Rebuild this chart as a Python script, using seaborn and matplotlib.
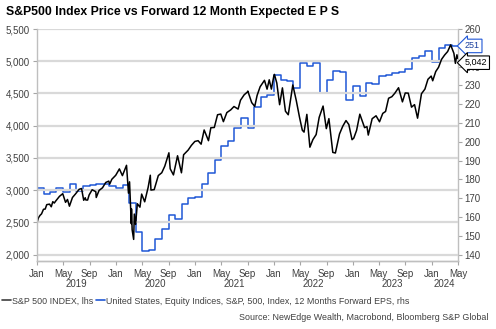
import numpy as np
import pandas as pd
import matplotlib
matplotlib.use('Agg')
import matplotlib.pyplot as plt
import matplotlib.dates as mdates
import matplotlib.transforms as mtransforms
from matplotlib.lines import Line2D
import seaborn as sns

# ---------------- data ----------------
sp_dates = [
    "2019-01-02", "2019-01-08", "2019-01-15", "2019-01-22", "2019-01-31", "2019-02-08", "2019-02-15",
    "2019-02-28", "2019-03-08", "2019-03-15", "2019-03-22", "2019-03-29", "2019-04-15", "2019-04-30",
    "2019-05-13", "2019-05-22", "2019-05-31", "2019-06-14", "2019-06-28", "2019-07-15", "2019-07-26",
    "2019-08-05", "2019-08-12", "2019-08-15", "2019-08-23", "2019-08-30", "2019-09-13", "2019-09-30",
    "2019-10-02", "2019-10-15", "2019-10-31", "2019-11-15", "2019-11-29", "2019-12-03", "2019-12-13",
    "2019-12-31", "2020-01-17", "2020-01-31", "2020-02-19", "2020-02-28", "2020-03-04", "2020-03-09",
    "2020-03-12", "2020-03-13", "2020-03-16", "2020-03-23", "2020-03-26", "2020-04-01", "2020-04-09",
    "2020-04-21", "2020-04-29", "2020-05-13", "2020-05-29", "2020-06-08", "2020-06-11", "2020-06-26",
    "2020-07-15", "2020-07-31", "2020-08-14", "2020-09-02", "2020-09-08", "2020-09-23", "2020-10-12",
    "2020-10-30", "2020-11-09", "2020-11-30", "2020-12-15", "2020-12-31", "2021-01-15", "2021-01-29",
    "2021-02-12", "2021-03-04", "2021-03-15", "2021-03-31", "2021-04-15", "2021-04-30", "2021-05-12",
    "2021-05-28", "2021-06-15", "2021-06-30", "2021-07-19", "2021-07-30", "2021-08-16", "2021-08-31",
    "2021-09-02", "2021-09-20", "2021-10-04", "2021-10-15", "2021-10-29", "2021-11-18", "2021-11-30",
    "2021-12-10", "2021-12-20", "2021-12-31", "2022-01-03", "2022-01-14", "2022-01-27", "2022-02-09",
    "2022-02-23", "2022-03-08", "2022-03-29", "2022-04-14", "2022-04-29", "2022-05-12", "2022-05-20",
    "2022-06-02", "2022-06-16", "2022-06-30", "2022-07-15", "2022-07-29", "2022-08-16", "2022-08-31",
    "2022-09-12", "2022-09-30", "2022-10-12", "2022-10-31", "2022-11-15", "2022-11-30", "2022-12-13",
    "2022-12-28", "2023-01-05", "2023-01-18", "2023-02-02", "2023-02-24", "2023-03-07", "2023-03-13",
    "2023-03-31", "2023-04-18", "2023-05-04", "2023-05-19", "2023-06-01", "2023-06-15", "2023-06-30",
    "2023-07-14", "2023-07-31", "2023-08-18", "2023-08-31", "2023-09-14", "2023-09-29", "2023-10-13",
    "2023-10-27", "2023-11-14", "2023-11-30", "2023-12-14", "2023-12-29", "2024-01-05", "2024-01-19",
    "2024-02-01", "2024-02-15", "2024-02-29", "2024-03-14", "2024-03-28", "2024-04-12", "2024-04-19",
    "2024-04-26", "2024-04-30",
]
sp_values = [
    2510, 2574, 2610, 2633, 2704, 2708, 2776,
    2784, 2743, 2822, 2801, 2834, 2905, 2946,
    2812, 2856, 2752, 2887, 2942, 3014, 3026,
    2844, 2883, 2848, 2847, 2926, 3007, 2977,
    2887, 2996, 3038, 3120, 3141, 3093, 3169,
    3231, 3330, 3226, 3386, 2954, 3130, 2747,
    2481, 2711, 2386, 2237, 2630, 2470, 2790,
    2737, 2940, 2820, 3044, 3232, 3002, 3009,
    3227, 3271, 3373, 3580, 3332, 3237, 3534,
    3270, 3550, 3622, 3695, 3756, 3768, 3714,
    3934, 3768, 3969, 3973, 4170, 4181, 4063,
    4204, 4246, 4298, 4258, 4395, 4479, 4523,
    4537, 4358, 4300, 4471, 4605, 4704, 4567,
    4712, 4568, 4766, 4796, 4662, 4326, 4587,
    4225, 4170, 4632, 4392, 4132, 3930, 3901,
    4176, 3667, 3785, 3863, 4130, 4305, 3955,
    4110, 3586, 3577, 3872, 3992, 4080, 4019,
    3783, 3808, 3928, 4179, 3970, 3986, 3855,
    4109, 4154, 4061, 4191, 4221, 4426, 4450,
    4505, 4589, 4370, 4508, 4505, 4288, 4327,
    4117, 4496, 4568, 4720, 4770, 4697, 4840,
    4906, 5030, 5096, 5150, 5254, 5123, 4967,
    5100, 5042,
]

eps_dates = [
    "2019-01-01", "2019-02-01", "2019-03-01", "2019-04-01", "2019-05-01", "2019-06-01",
    "2019-07-01", "2019-08-01", "2019-09-01", "2019-10-01", "2019-11-01", "2019-12-01",
    "2020-01-01", "2020-02-01", "2020-03-01", "2020-04-01", "2020-05-01", "2020-06-01",
    "2020-07-01", "2020-08-01", "2020-09-01", "2020-10-01", "2020-11-01", "2020-12-01",
    "2021-01-01", "2021-02-01", "2021-03-01", "2021-04-01", "2021-05-01", "2021-06-01",
    "2021-07-01", "2021-08-01", "2021-09-01", "2021-10-01", "2021-11-01", "2021-12-01",
    "2022-01-01", "2022-02-01", "2022-03-01", "2022-04-01", "2022-05-01", "2022-06-01",
    "2022-07-01", "2022-08-01", "2022-09-01", "2022-10-01", "2022-11-01", "2022-12-01",
    "2023-01-01", "2023-02-01", "2023-03-01", "2023-04-01", "2023-05-01", "2023-06-01",
    "2023-07-01", "2023-08-01", "2023-09-01", "2023-10-01", "2023-11-01", "2023-12-01",
    "2024-01-01", "2024-02-01", "2024-03-01", "2024-04-01", "2024-04-30",
]
eps_values = [
    175.7, 172.2, 173.5, 175.3, 173.2, 177.5,
    173.9, 176.6, 177.1, 177.5, 177.5, 176.7,
    175.3, 177.1, 167.4, 152.2, 142.0, 142.5,
    148.4, 153.5, 161.2, 158.9, 167.0, 170.0,
    170.5, 177.6, 183.3, 190.4, 197.9, 200.7,
    207.3, 212.6, 207.3, 218.3, 223.6, 225.0,
    235.7, 233.0, 232.6, 228.6, 241.9, 240.1,
    241.9, 225.9, 233.0, 237.8, 237.1, 222.0,
    229.5, 224.5, 231.3, 230.9, 234.8, 235.7,
    236.6, 237.1, 238.7, 244.6, 245.4, 248.5,
    242.4, 249.9, 251.7, 251.0, 251.0,
]

left_ticks = [2000, 2500, 3000, 3500, 4000, 4500, 5000, 5500]
right_ticks = [140, 150, 160, 170, 180, 190, 200, 210, 220, 230, 240, 250, 260]
right_labels = ["140", "150", "160", "170", "180", "190", "200", "210", "220", "230", "240", "", "260"]
month_ticks = ["2019-01-01", "2019-05-01", "2019-09-01", "2020-01-01", "2020-05-01", "2020-09-01",
               "2021-01-01", "2021-05-01", "2021-09-01", "2022-01-01", "2022-05-01", "2022-09-01",
               "2023-01-01", "2023-05-01", "2023-09-01", "2024-01-01", "2024-05-01"]
year_labels = ["2019", "2020", "2021", "2022", "2023", "2024"]
year_pos = ["2019-07-01", "2020-07-01", "2021-07-01", "2022-07-01", "2023-07-01", "2024-03-01"]

title = "S&P500 Index Price vs Forward 12 Month Expected E P S"
sp_name = "S&P 500 INDEX, lhs"
eps_name = "United States, Equity Indices, S&P, 500, Index, 12 Months Forward EPS, rhs"
source = "Source: NewEdge Wealth, Macrobond, Bloomberg S&P Global"

sp = pd.DataFrame({"date": pd.to_datetime(sp_dates), "value": sp_values})
eps = pd.DataFrame({"date": pd.to_datetime(eps_dates), "value": eps_values})

# ---------------- style ----------------
sns.set_theme(style="white")
plt.rcParams['font.family'] = ['Liberation Sans', 'DejaVu Sans']

BLUE = "#1F57D6"
GRAY = "#BFBFBF"
TXT = "#404040"

fig = plt.figure(figsize=(4.96, 3.29), dpi=100)
ax = fig.add_axes([37 / 496, 1 - 261 / 329, (458 - 37) / 496, (261 - 29) / 329])
ax2 = ax.twinx()

sns.lineplot(data=eps, x="date", y="value", ax=ax2, color=BLUE, lw=1.1,
             drawstyle="steps-post", legend=False)
sns.lineplot(data=sp, x="date", y="value", ax=ax, color="black", lw=1.1, legend=False)

ax.set_zorder(ax2.get_zorder() + 1)
ax.patch.set_visible(False)

ymin, ymax = 1902, 5500
ax.set_ylim(ymin, ymax)
ax2.set_ylim(140 + (ymin - 2000) * 120 / 3500, 260)
ax.set_xlim(pd.Timestamp("2019-01-01"), pd.Timestamp("2024-05-01"))

ax.set_yticks(left_ticks)
ax.set_yticklabels([f"{v:,}" for v in left_ticks])
ax2.set_yticks(right_ticks)
ax2.set_yticklabels(right_labels)
ax.yaxis.grid(True, color="#D9D9D9", lw=1.6)
ax.xaxis.grid(False)
ax2.grid(False)

ax.set_xticks(pd.to_datetime(month_ticks))
ax.set_xticklabels([pd.Timestamp(d).strftime("%b") for d in month_ticks])

for a in (ax, ax2):
    a.set_xlabel("")
    a.set_ylabel("")
    for s in a.spines.values():
        s.set_color(GRAY)
        s.set_linewidth(1.0)
    a.spines["top"].set_visible(False)
    a.tick_params(axis="both", which="major", length=3, width=0.8, color="#A6A6A6",
                  labelsize=7, labelcolor=TXT, pad=2)
ax.spines["right"].set_visible(False)
ax2.spines["left"].set_visible(False)
ax.tick_params(axis="y", left=True, right=False)
ax.tick_params(axis="x", bottom=True, pad=3)
ax2.tick_params(axis="y", right=True, left=False, pad=1.5)

trans = mtransforms.blended_transform_factory(ax.transData, ax.transAxes)
for lab, pos in zip(year_labels, year_pos):
    ax.text(pd.Timestamp(pos), -0.10, lab, transform=trans, ha="center", va="center",
            fontsize=7, color=TXT)

# end labels
ax2.annotate(f"{eps_values[-1]:.0f}", xy=(eps["date"].iloc[-1], eps_values[-1]),
             xytext=(5, 0), textcoords="offset points", ha="left", va="center",
             fontsize=6.5, color="#1A3F9E", annotation_clip=False, zorder=10,
             bbox=dict(boxstyle="larrow,pad=0.25", fc="white", ec=BLUE, lw=0.8))
ax.annotate(f"{sp_values[-1]:,}", xy=(sp["date"].iloc[-1], sp_values[-1]),
            xytext=(5, -3), textcoords="offset points", ha="left", va="center",
            fontsize=6.5, color="black", annotation_clip=False, zorder=10,
            bbox=dict(boxstyle="larrow,pad=0.25", fc="white", ec="black", lw=0.8))

fig.text(0.012, 1 - 12 / 329, title, fontsize=8.8, fontweight="bold", color="black",
         ha="left", va="center")

handles = [Line2D([], [], color="#404040", lw=1.2), Line2D([], [], color=BLUE, lw=1.2)]
fig.legend(handles, [sp_name, eps_name], loc="center left",
           bbox_to_anchor=(0.0, 1 - 301 / 329), ncol=2, frameon=False, fontsize=6.4,
           handlelength=1.0, handletextpad=0.15, columnspacing=0.3, borderaxespad=0,
           borderpad=0.2, labelcolor=TXT)
fig.text(0.985, 1 - 317 / 329, source, fontsize=6.4, color=TXT, ha="right", va="center")

fig.savefig("out.png", dpi=100)
